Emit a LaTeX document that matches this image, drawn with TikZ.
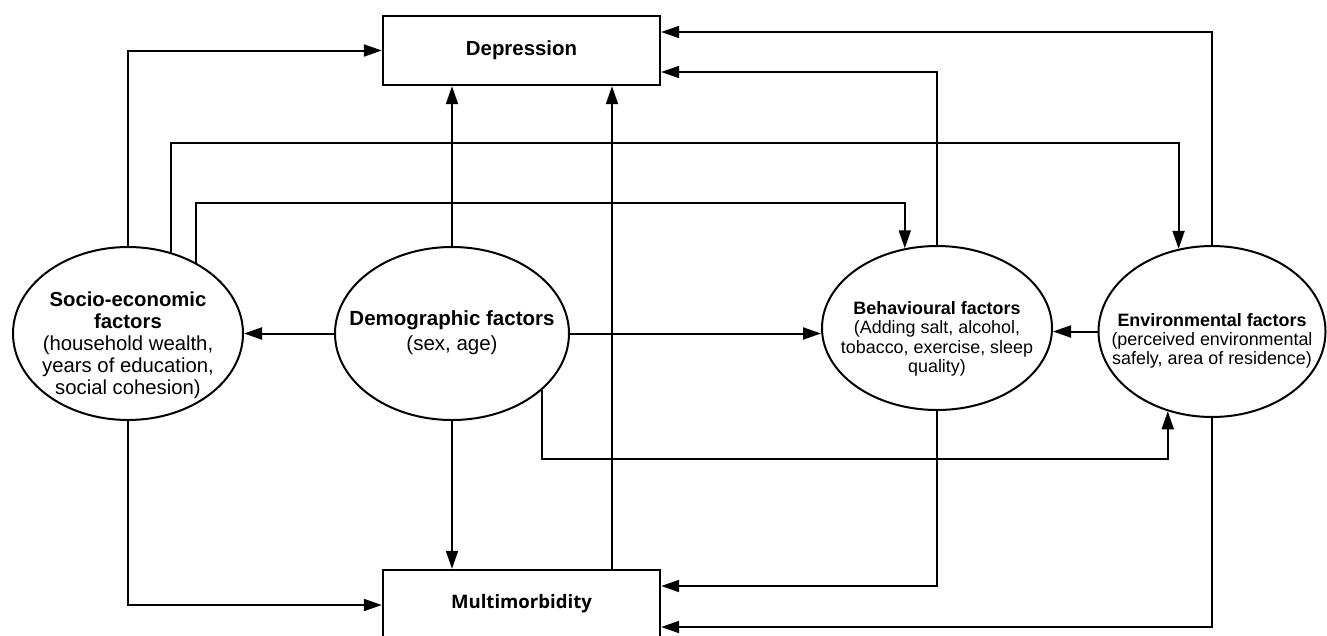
\documentclass[tikz,border=0pt]{standalone}
\usepackage{fontspec}
\setmainfont{Liberation Sans}
\newfontfamily\osans{Open Sans}
\usetikzlibrary{arrows.meta,shapes.geometric,calc}
\begin{document}
\begin{tikzpicture}[x=1pt,y=-1pt,
  box/.style={draw,line width=2.4pt,minimum width=277pt,minimum height=69pt,inner sep=0pt},
  oval/.style={draw,ellipse,line width=2pt,inner sep=0pt},
  txt/.style={align=center,inner sep=0pt},
  arr/.style={line width=2pt,-{Triangle[length=18pt,width=12pt]}}]
\useasboundingbox (0,0) rectangle (1327,635);
\node[box] (dep) at (521.5,50.5) {\fontsize{20.4}{24}\selectfont\bfseries Depression};
\node[box,minimum height=68pt] (mult) at (521.5,604) {\osans\fontsize{18.6}{22}\selectfont\bfseries Multimorbidity};
\node[oval,minimum width=230pt,minimum height=173pt] (socio) at (128,333.5) {};
\node[oval,minimum width=234pt,minimum height=173pt] (dem) at (452,333.5) {};
\node[oval,minimum width=230pt,minimum height=164pt] (beh) at (937,328) {};
\node[oval,minimum width=227pt,minimum height=171pt] (env) at (1212,331.5) {};
\node[txt,font=\fontsize{20.3}{22}\selectfont] (sociot) at (128,345) {\textbf{Socio-economic}\\\textbf{factors}\\(household wealth,\\years of education,\\social cohesion)};
\node[txt,font=\fontsize{20.5}{25}\selectfont] (demt) at (452,333) {\textbf{Demographic factors}\\(sex, age)};
\node[txt,font=\fontsize{17.9}{19.3}\selectfont] (beht) at (937,339) {\textbf{Behavioural factors}\\(Adding salt, alcohol,\\tobacco, exercise, sleep\\quality)};
\node[txt,font=\fontsize{17.9}{19.2}\selectfont] (envt) at (1212,341) {\textbf{Environmental factors}\\(perceived environmental\\safely, area of residence)};
\coordinate (h32) at (0,32);
\coordinate (h72) at (0,72);
\coordinate (h143) at (0,143);
\coordinate (h203) at (0,203);
\coordinate (h459) at (0,459);
\coordinate (h586) at (0,586);
\coordinate (h605) at (0,605);
\coordinate (h627) at (0,627);
\coordinate (v612) at (612,0);
\draw[arr] (socio.north) |- (dep.west);
\draw[arr] (socio.62) |- (env.112 |- h143) -- (env.112);
\draw[arr] (socio.46) |- (beh.112 |- h203) -- (beh.112);
\draw[arr] (dem.-32) |- (env.241 |- h459) -- (env.241);
\draw[arr] (dem.north) -- (dem.north |- dep.south);
\draw[arr] (dem.south) -- (dem.south |- mult.north);
\draw[arr] (dem.west) -- (socio.east);
\draw[arr] (dem.east) -- (dem.east -| beh.west);
\draw[arr] (mult.north -| v612) -- (dep.south -| v612);
\draw[arr] (beh.north) |- (dep.east |- h72);
\draw[arr] (env.north) |- (dep.east |- h32);
\draw[arr] (env.west) -- (env.west -| beh.east);
\draw[arr] (socio.south) |- (mult.west |- h605);
\draw[arr] (beh.south) |- (mult.east |- h586);
\draw[arr] (env.south) |- (mult.east |- h627);
\end{tikzpicture}
\end{document}
